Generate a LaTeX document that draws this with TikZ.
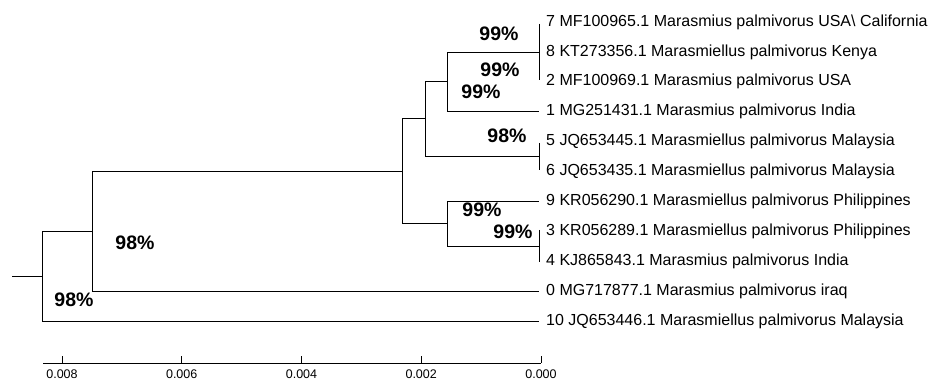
\documentclass[tikz,border=0pt]{standalone}
\usepackage{fontspec}
\setmainfont{Liberation Sans}
\usepackage{tikz}
\usetikzlibrary{positioning, calc}

\begin{document}
\begin{tikzpicture}[x=1pt, y=-1pt,
        branch/.style={draw=black, line width=0.9pt},
        leaf/.style={anchor=west, inner sep=0pt, font=\fontsize{16}{18}\selectfont},
        boot/.style={inner sep=0pt, font=\fontsize{19.5}{21}\selectfont\bfseries},
        scalelab/.style={inner sep=0pt, font=\fontsize{12.5}{14}\selectfont}
    ]
        \useasboundingbox[fill=white] (0,0) rectangle (951,387);

        \coordinate (stub) at (12,276);
        \coordinate (root) at (42,276);
        \coordinate (nA) at (92,231);
        \coordinate (nB) at (402,171);
        \coordinate (nC) at (425,118.5);
        \coordinate (nD) at (447,81.5);
        \coordinate (nE) at (447,223.5);
        \coordinate (c782) at (539,52);
        \coordinate (c56) at (539,156);
        \coordinate (c34) at (539,246);

        \coordinate (t7) at (539,22);
        \coordinate (t8) at (539,52);
        \coordinate (t2) at (539,81);
        \coordinate (t1) at (539,111);
        \coordinate (t5) at (539,141);
        \coordinate (t6) at (539,171);
        \coordinate (t9) at (539,201);
        \coordinate (t3) at (539,231);
        \coordinate (t4) at (539,261);
        \coordinate (t0) at (539,291);
        \coordinate (t10) at (539,321);

        \node[leaf, right=7pt of t7] (l7) {7 MF100965.1 Marasmius palmivorus USA\textbackslash{} California};
        \node[leaf, right=7pt of t8] (l8) {8 KT273356.1 Marasmiellus palmivorus Kenya};
        \node[leaf, right=7pt of t2] (l2) {2 MF100969.1 Marasmius palmivorus USA};
        \node[leaf, right=7pt of t1] (l1) {1 MG251431.1 Marasmius palmivorus India};
        \node[leaf, right=7pt of t5] (l5) {5 JQ653445.1 Marasmiellus palmivorus Malaysia};
        \node[leaf, right=7pt of t6] (l6) {6 JQ653435.1 Marasmiellus palmivorus Malaysia};
        \node[leaf, right=7pt of t9] (l9) {9 KR056290.1 Marasmiellus palmivorus Philippines};
        \node[leaf, right=7pt of t3] (l3) {3 KR056289.1 Marasmiellus palmivorus Philippines};
        \node[leaf, right=7pt of t4] (l4) {4 KJ865843.1 Marasmius palmivorus India};
        \node[leaf, right=7pt of t0] (l0) {0 MG717877.1 Marasmius palmivorus iraq};
        \node[leaf, right=7pt of t10] (l10) {10 JQ653446.1 Marasmiellus palmivorus Malaysia};

        \draw[branch] (stub) -- (root);
        \draw[branch] (root) |- (nA);
        \draw[branch] (root) |- (t10);
        \draw[branch] (nA) |- (nB);
        \draw[branch] (nA) |- (t0);
        \draw[branch] (nB) |- (nC);
        \draw[branch] (nB) |- (nE);
        \draw[branch] (nC) |- (nD);
        \draw[branch] (nC) |- (c56);
        \draw[branch] (nD) |- (c782);
        \draw[branch] (nD) |- (t1);
        \draw[branch] (nE) |- (t9);
        \draw[branch] (nE) |- (c34);
        \draw[branch] ([yshift=-2pt]t7) -- ([yshift=1pt]t2);
        \draw[branch] ([yshift=-2pt]t5) -- ([yshift=1pt]t6);
        \draw[branch] ([yshift=1pt]t3) -- ([yshift=-1pt]t4);

        \node[boot] (b782) at (499,34) {99\%};
        \node[boot] (bD) at (500,70) {99\%};
        \node[boot] (bC) at (481,92) {99\%};
        \node[boot] (b56) at (507,136) {98\%};
        \node[boot] (bE) at (482,210) {99\%};
        \node[boot] (b34) at (513,232) {99\%};
        \node[boot] (bA) at (135,243) {98\%};
        \node[boot] (broot) at (74,300) {98\%};

        \coordinate (ax0) at (43,363);
        \coordinate (ax1) at (541,363);
        \draw[line width=0.8pt] (ax0) -- (ax1);
        \draw[line width=0.8pt] (62,363) -- ++(0,-7) coordinate (k8);
        \draw[line width=0.8pt] (181.7,363) -- ++(0,-7) coordinate (k6);
        \draw[line width=0.8pt] (301.5,363) -- ++(0,-7) coordinate (k4);
        \draw[line width=0.8pt] (421.2,363) -- ++(0,-7) coordinate (k2);
        \draw[line width=0.8pt] (541,363) -- ++(0,-7) coordinate (k0);
        \node[scalelab] (s8) at (62,374) {0.008};
        \node[scalelab] (s6) at (181.7,374) {0.006};
        \node[scalelab] (s4) at (301.5,374) {0.004};
        \node[scalelab] (s2) at (421.2,374) {0.002};
        \node[scalelab] (s0) at (541,374) {0.000};
    \end{tikzpicture}
\end{document}
